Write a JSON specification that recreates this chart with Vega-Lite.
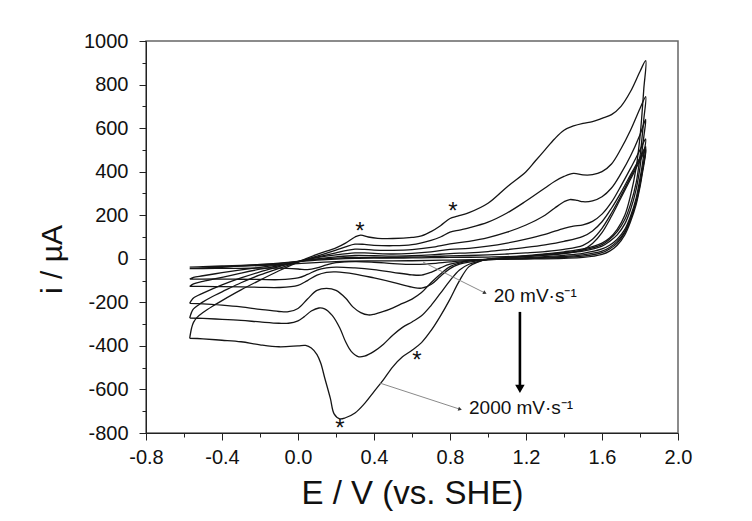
{
"$schema":"https://vega.github.io/schema/vega-lite/v6.json",
"width":532,"height":392,
"autosize":{"type":"none"},
"padding":{"left":146,"top":41,"right":74,"bottom":88},
"background":"white",
"config":{"view":{"stroke":"#666","strokeWidth":1.5},"font":"Liberation Sans"},
"datasets":{
"cv":[
{"s":2000,"k":1,"E":-0.57,"i":-365},{"s":2000,"k":2,"E":-0.56,"i":-318},{"s":2000,"k":3,"E":-0.55,"i":-292},{"s":2000,"k":4,"E":-0.53,"i":-268},{"s":2000,"k":5,"E":-0.5,"i":-247},{"s":2000,"k":6,"E":-0.45,"i":-218},{"s":2000,"k":7,"E":-0.4,"i":-192},{"s":2000,"k":8,"E":-0.3,"i":-143},{"s":2000,"k":9,"E":-0.2,"i":-98},{"s":2000,"k":10,"E":-0.1,"i":-55},{"s":2000,"k":11,"E":0,"i":-15},{"s":2000,"k":12,"E":0.1,"i":20},{"s":2000,"k":13,"E":0.2,"i":50},{"s":2000,"k":14,"E":0.25,"i":72},{"s":2000,"k":15,"E":0.3,"i":100},{"s":2000,"k":16,"E":0.33,"i":109},{"s":2000,"k":17,"E":0.37,"i":100},{"s":2000,"k":18,"E":0.42,"i":94},{"s":2000,"k":19,"E":0.5,"i":93},{"s":2000,"k":20,"E":0.6,"i":98},{"s":2000,"k":21,"E":0.65,"i":105},{"s":2000,"k":22,"E":0.7,"i":125},{"s":2000,"k":23,"E":0.75,"i":152},{"s":2000,"k":24,"E":0.8,"i":185},{"s":2000,"k":25,"E":0.84,"i":196},{"s":2000,"k":26,"E":0.9,"i":212},{"s":2000,"k":27,"E":1.0,"i":255},{"s":2000,"k":28,"E":1.1,"i":330},{"s":2000,"k":29,"E":1.2,"i":400},{"s":2000,"k":30,"E":1.25,"i":450},{"s":2000,"k":31,"E":1.3,"i":500},{"s":2000,"k":32,"E":1.35,"i":550},{"s":2000,"k":33,"E":1.4,"i":590},{"s":2000,"k":34,"E":1.45,"i":610},{"s":2000,"k":35,"E":1.5,"i":622},{"s":2000,"k":36,"E":1.55,"i":630},{"s":2000,"k":37,"E":1.6,"i":645},{"s":2000,"k":38,"E":1.65,"i":662},{"s":2000,"k":39,"E":1.7,"i":700},{"s":2000,"k":40,"E":1.75,"i":768},{"s":2000,"k":41,"E":1.8,"i":860},{"s":2000,"k":42,"E":1.83,"i":910},
{"s":2000,"k":101,"E":1.82,"i":780},{"s":2000,"k":102,"E":1.81,"i":660},{"s":2000,"k":103,"E":1.8,"i":560},{"s":2000,"k":104,"E":1.78,"i":420},{"s":2000,"k":105,"E":1.75,"i":290},{"s":2000,"k":106,"E":1.72,"i":200},{"s":2000,"k":107,"E":1.68,"i":135},{"s":2000,"k":108,"E":1.64,"i":95},{"s":2000,"k":109,"E":1.6,"i":72},{"s":2000,"k":110,"E":1.5,"i":45},{"s":2000,"k":111,"E":1.4,"i":32},{"s":2000,"k":112,"E":1.3,"i":22},{"s":2000,"k":113,"E":1.2,"i":14},{"s":2000,"k":114,"E":1.1,"i":6},{"s":2000,"k":115,"E":1.0,"i":-2},{"s":2000,"k":116,"E":0.95,"i":-14},{"s":2000,"k":117,"E":0.9,"i":-36},{"s":2000,"k":118,"E":0.85,"i":-100},{"s":2000,"k":119,"E":0.8,"i":-185},{"s":2000,"k":120,"E":0.75,"i":-262},{"s":2000,"k":121,"E":0.7,"i":-330},{"s":2000,"k":122,"E":0.65,"i":-385},{"s":2000,"k":123,"E":0.6,"i":-420},{"s":2000,"k":124,"E":0.55,"i":-450},{"s":2000,"k":125,"E":0.5,"i":-495},{"s":2000,"k":126,"E":0.45,"i":-555},{"s":2000,"k":127,"E":0.4,"i":-610},{"s":2000,"k":128,"E":0.35,"i":-665},{"s":2000,"k":129,"E":0.3,"i":-708},{"s":2000,"k":130,"E":0.25,"i":-730},{"s":2000,"k":131,"E":0.22,"i":-735},{"s":2000,"k":132,"E":0.19,"i":-712},{"s":2000,"k":133,"E":0.17,"i":-640},{"s":2000,"k":134,"E":0.14,"i":-545},{"s":2000,"k":135,"E":0.12,"i":-480},{"s":2000,"k":136,"E":0.1,"i":-440},{"s":2000,"k":137,"E":0.07,"i":-410},{"s":2000,"k":138,"E":0.04,"i":-398},{"s":2000,"k":139,"E":0,"i":-400},{"s":2000,"k":140,"E":-0.1,"i":-404},{"s":2000,"k":141,"E":-0.2,"i":-395},{"s":2000,"k":142,"E":-0.3,"i":-381},{"s":2000,"k":143,"E":-0.4,"i":-374},{"s":2000,"k":144,"E":-0.5,"i":-368},{"s":2000,"k":145,"E":-0.57,"i":-365},
{"s":1000,"k":1,"E":-0.57,"i":-272},{"s":1000,"k":2,"E":-0.56,"i":-245},{"s":1000,"k":3,"E":-0.55,"i":-230},{"s":1000,"k":4,"E":-0.52,"i":-210},{"s":1000,"k":5,"E":-0.5,"i":-198},{"s":1000,"k":6,"E":-0.45,"i":-173},{"s":1000,"k":7,"E":-0.4,"i":-152},{"s":1000,"k":8,"E":-0.3,"i":-110},{"s":1000,"k":9,"E":-0.2,"i":-74},{"s":1000,"k":10,"E":-0.1,"i":-44},{"s":1000,"k":11,"E":0,"i":-15},{"s":1000,"k":12,"E":0.1,"i":12},{"s":1000,"k":13,"E":0.2,"i":40},{"s":1000,"k":14,"E":0.25,"i":55},{"s":1000,"k":15,"E":0.3,"i":67},{"s":1000,"k":16,"E":0.35,"i":66},{"s":1000,"k":17,"E":0.4,"i":62},{"s":1000,"k":18,"E":0.5,"i":60},{"s":1000,"k":19,"E":0.6,"i":65},{"s":1000,"k":20,"E":0.7,"i":85},{"s":1000,"k":21,"E":0.75,"i":100},{"s":1000,"k":22,"E":0.8,"i":122},{"s":1000,"k":23,"E":0.85,"i":132},{"s":1000,"k":24,"E":0.9,"i":142},{"s":1000,"k":25,"E":1.0,"i":168},{"s":1000,"k":26,"E":1.1,"i":210},{"s":1000,"k":27,"E":1.2,"i":265},{"s":1000,"k":28,"E":1.3,"i":325},{"s":1000,"k":29,"E":1.35,"i":355},{"s":1000,"k":30,"E":1.4,"i":378},{"s":1000,"k":31,"E":1.45,"i":392},{"s":1000,"k":32,"E":1.5,"i":385},{"s":1000,"k":33,"E":1.55,"i":386},{"s":1000,"k":34,"E":1.6,"i":400},{"s":1000,"k":35,"E":1.65,"i":435},{"s":1000,"k":36,"E":1.7,"i":505},{"s":1000,"k":37,"E":1.75,"i":590},{"s":1000,"k":38,"E":1.8,"i":690},{"s":1000,"k":39,"E":1.83,"i":745},
{"s":1000,"k":101,"E":1.82,"i":640},{"s":1000,"k":102,"E":1.81,"i":550},{"s":1000,"k":103,"E":1.8,"i":470},{"s":1000,"k":104,"E":1.78,"i":350},{"s":1000,"k":105,"E":1.75,"i":250},{"s":1000,"k":106,"E":1.72,"i":180},{"s":1000,"k":107,"E":1.68,"i":125},{"s":1000,"k":108,"E":1.64,"i":90},{"s":1000,"k":109,"E":1.6,"i":65},{"s":1000,"k":110,"E":1.5,"i":40},{"s":1000,"k":111,"E":1.4,"i":28},{"s":1000,"k":112,"E":1.3,"i":20},{"s":1000,"k":113,"E":1.2,"i":12},{"s":1000,"k":114,"E":1.1,"i":5},{"s":1000,"k":115,"E":1.0,"i":-3},{"s":1000,"k":116,"E":0.95,"i":-12},{"s":1000,"k":117,"E":0.9,"i":-25},{"s":1000,"k":118,"E":0.85,"i":-51},{"s":1000,"k":119,"E":0.8,"i":-100},{"s":1000,"k":120,"E":0.75,"i":-158},{"s":1000,"k":121,"E":0.7,"i":-215},{"s":1000,"k":122,"E":0.65,"i":-262},{"s":1000,"k":123,"E":0.6,"i":-290},{"s":1000,"k":124,"E":0.55,"i":-315},{"s":1000,"k":125,"E":0.5,"i":-350},{"s":1000,"k":126,"E":0.45,"i":-392},{"s":1000,"k":127,"E":0.4,"i":-425},{"s":1000,"k":128,"E":0.35,"i":-447},{"s":1000,"k":129,"E":0.32,"i":-450},{"s":1000,"k":130,"E":0.28,"i":-425},{"s":1000,"k":131,"E":0.25,"i":-380},{"s":1000,"k":132,"E":0.22,"i":-318},{"s":1000,"k":133,"E":0.18,"i":-260},{"s":1000,"k":134,"E":0.14,"i":-230},{"s":1000,"k":135,"E":0.11,"i":-226},{"s":1000,"k":136,"E":0.07,"i":-240},{"s":1000,"k":137,"E":0.03,"i":-268},{"s":1000,"k":138,"E":0,"i":-285},{"s":1000,"k":139,"E":-0.05,"i":-296},{"s":1000,"k":140,"E":-0.1,"i":-296},{"s":1000,"k":141,"E":-0.2,"i":-290},{"s":1000,"k":142,"E":-0.3,"i":-283},{"s":1000,"k":143,"E":-0.4,"i":-278},{"s":1000,"k":144,"E":-0.5,"i":-274},{"s":1000,"k":145,"E":-0.57,"i":-272},
{"s":500,"k":1,"E":-0.57,"i":-205},{"s":500,"k":2,"E":-0.56,"i":-190},{"s":500,"k":3,"E":-0.55,"i":-180},{"s":500,"k":4,"E":-0.5,"i":-158},{"s":500,"k":5,"E":-0.45,"i":-138},{"s":500,"k":6,"E":-0.4,"i":-120},{"s":500,"k":7,"E":-0.3,"i":-88},{"s":500,"k":8,"E":-0.2,"i":-60},{"s":500,"k":9,"E":-0.1,"i":-36},{"s":500,"k":10,"E":0,"i":-12},{"s":500,"k":11,"E":0.1,"i":8},{"s":500,"k":12,"E":0.2,"i":27},{"s":500,"k":13,"E":0.25,"i":37},{"s":500,"k":14,"E":0.3,"i":44},{"s":500,"k":15,"E":0.35,"i":43},{"s":500,"k":16,"E":0.4,"i":40},{"s":500,"k":17,"E":0.5,"i":39},{"s":500,"k":18,"E":0.6,"i":42},{"s":500,"k":19,"E":0.7,"i":52},{"s":500,"k":20,"E":0.8,"i":68},{"s":500,"k":21,"E":0.9,"i":80},{"s":500,"k":22,"E":1.0,"i":97},{"s":500,"k":23,"E":1.1,"i":122},{"s":500,"k":24,"E":1.2,"i":155},{"s":500,"k":25,"E":1.3,"i":200},{"s":500,"k":26,"E":1.35,"i":232},{"s":500,"k":27,"E":1.4,"i":262},{"s":500,"k":28,"E":1.43,"i":272},{"s":500,"k":29,"E":1.47,"i":268},{"s":500,"k":30,"E":1.5,"i":262},{"s":500,"k":31,"E":1.55,"i":266},{"s":500,"k":32,"E":1.6,"i":285},{"s":500,"k":33,"E":1.65,"i":325},{"s":500,"k":34,"E":1.7,"i":392},{"s":500,"k":35,"E":1.75,"i":472},{"s":500,"k":36,"E":1.8,"i":570},{"s":500,"k":37,"E":1.83,"i":640},
{"s":500,"k":101,"E":1.82,"i":560},{"s":500,"k":102,"E":1.81,"i":490},{"s":500,"k":103,"E":1.8,"i":420},{"s":500,"k":104,"E":1.78,"i":320},{"s":500,"k":105,"E":1.75,"i":225},{"s":500,"k":106,"E":1.72,"i":160},{"s":500,"k":107,"E":1.68,"i":110},{"s":500,"k":108,"E":1.64,"i":80},{"s":500,"k":109,"E":1.6,"i":58},{"s":500,"k":110,"E":1.5,"i":35},{"s":500,"k":111,"E":1.4,"i":25},{"s":500,"k":112,"E":1.3,"i":17},{"s":500,"k":113,"E":1.2,"i":10},{"s":500,"k":114,"E":1.1,"i":3},{"s":500,"k":115,"E":1.0,"i":-2},{"s":500,"k":116,"E":0.9,"i":-10},{"s":500,"k":117,"E":0.8,"i":-36},{"s":500,"k":118,"E":0.75,"i":-70},{"s":500,"k":119,"E":0.7,"i":-110},{"s":500,"k":120,"E":0.65,"i":-155},{"s":500,"k":121,"E":0.6,"i":-185},{"s":500,"k":122,"E":0.55,"i":-205},{"s":500,"k":123,"E":0.5,"i":-225},{"s":500,"k":124,"E":0.45,"i":-242},{"s":500,"k":125,"E":0.4,"i":-255},{"s":500,"k":126,"E":0.37,"i":-258},{"s":500,"k":127,"E":0.33,"i":-247},{"s":500,"k":128,"E":0.29,"i":-222},{"s":500,"k":129,"E":0.25,"i":-180},{"s":500,"k":130,"E":0.2,"i":-145},{"s":500,"k":131,"E":0.15,"i":-136},{"s":500,"k":132,"E":0.1,"i":-145},{"s":500,"k":133,"E":0.05,"i":-185},{"s":500,"k":134,"E":0,"i":-228},{"s":500,"k":135,"E":-0.05,"i":-243},{"s":500,"k":136,"E":-0.1,"i":-242},{"s":500,"k":137,"E":-0.2,"i":-232},{"s":500,"k":138,"E":-0.3,"i":-221},{"s":500,"k":139,"E":-0.4,"i":-213},{"s":500,"k":140,"E":-0.5,"i":-207},{"s":500,"k":141,"E":-0.57,"i":-205},
{"s":200,"k":1,"E":-0.57,"i":-127},{"s":200,"k":2,"E":-0.55,"i":-115},{"s":200,"k":3,"E":-0.5,"i":-104},{"s":200,"k":4,"E":-0.4,"i":-85},{"s":200,"k":5,"E":-0.3,"i":-66},{"s":200,"k":6,"E":-0.2,"i":-48},{"s":200,"k":7,"E":-0.1,"i":-32},{"s":200,"k":8,"E":0,"i":-13},{"s":200,"k":9,"E":0.1,"i":5},{"s":200,"k":10,"E":0.2,"i":18},{"s":200,"k":11,"E":0.3,"i":27},{"s":200,"k":12,"E":0.35,"i":27},{"s":200,"k":13,"E":0.4,"i":25},{"s":200,"k":14,"E":0.5,"i":22},{"s":200,"k":15,"E":0.6,"i":25},{"s":200,"k":16,"E":0.7,"i":32},{"s":200,"k":17,"E":0.8,"i":43},{"s":200,"k":18,"E":0.9,"i":48},{"s":200,"k":19,"E":1.0,"i":58},{"s":200,"k":20,"E":1.1,"i":72},{"s":200,"k":21,"E":1.2,"i":90},{"s":200,"k":22,"E":1.3,"i":112},{"s":200,"k":23,"E":1.4,"i":140},{"s":200,"k":24,"E":1.45,"i":150},{"s":200,"k":25,"E":1.5,"i":156},{"s":200,"k":26,"E":1.55,"i":172},{"s":200,"k":27,"E":1.6,"i":205},{"s":200,"k":28,"E":1.65,"i":260},{"s":200,"k":29,"E":1.7,"i":335},{"s":200,"k":30,"E":1.75,"i":415},{"s":200,"k":31,"E":1.8,"i":500},{"s":200,"k":32,"E":1.83,"i":550},
{"s":200,"k":101,"E":1.82,"i":480},{"s":200,"k":102,"E":1.81,"i":420},{"s":200,"k":103,"E":1.8,"i":370},{"s":200,"k":104,"E":1.78,"i":280},{"s":200,"k":105,"E":1.75,"i":195},{"s":200,"k":106,"E":1.72,"i":135},{"s":200,"k":107,"E":1.68,"i":90},{"s":200,"k":108,"E":1.64,"i":62},{"s":200,"k":109,"E":1.6,"i":45},{"s":200,"k":110,"E":1.5,"i":25},{"s":200,"k":111,"E":1.4,"i":16},{"s":200,"k":112,"E":1.3,"i":10},{"s":200,"k":113,"E":1.2,"i":5},{"s":200,"k":114,"E":1.1,"i":0},{"s":200,"k":115,"E":1.0,"i":-5},{"s":200,"k":116,"E":0.9,"i":-15},{"s":200,"k":117,"E":0.85,"i":-25},{"s":200,"k":118,"E":0.8,"i":-45},{"s":200,"k":119,"E":0.75,"i":-80},{"s":200,"k":120,"E":0.7,"i":-118},{"s":200,"k":121,"E":0.65,"i":-135},{"s":200,"k":122,"E":0.6,"i":-130},{"s":200,"k":123,"E":0.5,"i":-108},{"s":200,"k":124,"E":0.4,"i":-88},{"s":200,"k":125,"E":0.3,"i":-70},{"s":200,"k":126,"E":0.2,"i":-60},{"s":200,"k":127,"E":0.15,"i":-62},{"s":200,"k":128,"E":0.1,"i":-75},{"s":200,"k":129,"E":0.05,"i":-100},{"s":200,"k":130,"E":0,"i":-122},{"s":200,"k":131,"E":-0.1,"i":-132},{"s":200,"k":132,"E":-0.2,"i":-131},{"s":200,"k":133,"E":-0.3,"i":-129},{"s":200,"k":134,"E":-0.4,"i":-128},{"s":200,"k":135,"E":-0.5,"i":-127},{"s":200,"k":136,"E":-0.57,"i":-127},
{"s":100,"k":1,"E":-0.57,"i":-93},{"s":100,"k":2,"E":-0.55,"i":-85},{"s":100,"k":3,"E":-0.5,"i":-78},{"s":100,"k":4,"E":-0.4,"i":-64},{"s":100,"k":5,"E":-0.3,"i":-51},{"s":100,"k":6,"E":-0.2,"i":-39},{"s":100,"k":7,"E":-0.1,"i":-28},{"s":100,"k":8,"E":0,"i":-13},{"s":100,"k":9,"E":0.1,"i":0},{"s":100,"k":10,"E":0.2,"i":9},{"s":100,"k":11,"E":0.3,"i":15},{"s":100,"k":12,"E":0.4,"i":14},{"s":100,"k":13,"E":0.5,"i":12},{"s":100,"k":14,"E":0.6,"i":14},{"s":100,"k":15,"E":0.7,"i":18},{"s":100,"k":16,"E":0.8,"i":24},{"s":100,"k":17,"E":0.9,"i":27},{"s":100,"k":18,"E":1.0,"i":33},{"s":100,"k":19,"E":1.1,"i":42},{"s":100,"k":20,"E":1.2,"i":52},{"s":100,"k":21,"E":1.3,"i":64},{"s":100,"k":22,"E":1.4,"i":80},{"s":100,"k":23,"E":1.5,"i":103},{"s":100,"k":24,"E":1.55,"i":128},{"s":100,"k":25,"E":1.6,"i":170},{"s":100,"k":26,"E":1.65,"i":232},{"s":100,"k":27,"E":1.7,"i":305},{"s":100,"k":28,"E":1.75,"i":385},{"s":100,"k":29,"E":1.8,"i":465},{"s":100,"k":30,"E":1.83,"i":515},
{"s":100,"k":101,"E":1.82,"i":445},{"s":100,"k":102,"E":1.81,"i":395},{"s":100,"k":103,"E":1.8,"i":345},{"s":100,"k":104,"E":1.78,"i":265},{"s":100,"k":105,"E":1.75,"i":185},{"s":100,"k":106,"E":1.72,"i":125},{"s":100,"k":107,"E":1.68,"i":80},{"s":100,"k":108,"E":1.64,"i":52},{"s":100,"k":109,"E":1.6,"i":35},{"s":100,"k":110,"E":1.5,"i":18},{"s":100,"k":111,"E":1.4,"i":11},{"s":100,"k":112,"E":1.3,"i":6},{"s":100,"k":113,"E":1.2,"i":2},{"s":100,"k":114,"E":1.1,"i":-1},{"s":100,"k":115,"E":1.0,"i":-4},{"s":100,"k":116,"E":0.9,"i":-10},{"s":100,"k":117,"E":0.8,"i":-25},{"s":100,"k":118,"E":0.75,"i":-42},{"s":100,"k":119,"E":0.7,"i":-62},{"s":100,"k":120,"E":0.65,"i":-75},{"s":100,"k":121,"E":0.6,"i":-74},{"s":100,"k":122,"E":0.5,"i":-62},{"s":100,"k":123,"E":0.4,"i":-50},{"s":100,"k":124,"E":0.3,"i":-42},{"s":100,"k":125,"E":0.2,"i":-38},{"s":100,"k":126,"E":0.15,"i":-42},{"s":100,"k":127,"E":0.1,"i":-52},{"s":100,"k":128,"E":0.05,"i":-72},{"s":100,"k":129,"E":0,"i":-88},{"s":100,"k":130,"E":-0.1,"i":-96},{"s":100,"k":131,"E":-0.2,"i":-95},{"s":100,"k":132,"E":-0.3,"i":-94},{"s":100,"k":133,"E":-0.4,"i":-93},{"s":100,"k":134,"E":-0.5,"i":-93},{"s":100,"k":135,"E":-0.57,"i":-93},
{"s":50,"k":1,"E":-0.57,"i":-45},{"s":50,"k":2,"E":-0.5,"i":-42},{"s":50,"k":3,"E":-0.4,"i":-38},{"s":50,"k":4,"E":-0.3,"i":-33},{"s":50,"k":5,"E":-0.2,"i":-28},{"s":50,"k":6,"E":-0.1,"i":-22},{"s":50,"k":7,"E":0,"i":-12},{"s":50,"k":8,"E":0.1,"i":-3},{"s":50,"k":9,"E":0.2,"i":3},{"s":50,"k":10,"E":0.3,"i":6},{"s":50,"k":11,"E":0.4,"i":6},{"s":50,"k":12,"E":0.5,"i":6},{"s":50,"k":13,"E":0.6,"i":8},{"s":50,"k":14,"E":0.7,"i":10},{"s":50,"k":15,"E":0.8,"i":13},{"s":50,"k":16,"E":0.9,"i":15},{"s":50,"k":17,"E":1.0,"i":18},{"s":50,"k":18,"E":1.1,"i":22},{"s":50,"k":19,"E":1.2,"i":27},{"s":50,"k":20,"E":1.3,"i":33},{"s":50,"k":21,"E":1.4,"i":43},{"s":50,"k":22,"E":1.5,"i":62},{"s":50,"k":23,"E":1.55,"i":90},{"s":50,"k":24,"E":1.6,"i":140},{"s":50,"k":25,"E":1.65,"i":210},{"s":50,"k":26,"E":1.7,"i":290},{"s":50,"k":27,"E":1.75,"i":375},{"s":50,"k":28,"E":1.8,"i":460},{"s":50,"k":29,"E":1.83,"i":505},
{"s":50,"k":101,"E":1.82,"i":440},{"s":50,"k":102,"E":1.81,"i":390},{"s":50,"k":103,"E":1.8,"i":340},{"s":50,"k":104,"E":1.78,"i":260},{"s":50,"k":105,"E":1.75,"i":180},{"s":50,"k":106,"E":1.72,"i":120},{"s":50,"k":107,"E":1.68,"i":72},{"s":50,"k":108,"E":1.64,"i":45},{"s":50,"k":109,"E":1.6,"i":28},{"s":50,"k":110,"E":1.5,"i":12},{"s":50,"k":111,"E":1.4,"i":7},{"s":50,"k":112,"E":1.3,"i":3},{"s":50,"k":113,"E":1.2,"i":1},{"s":50,"k":114,"E":1.0,"i":-3},{"s":50,"k":115,"E":0.9,"i":-7},{"s":50,"k":116,"E":0.8,"i":-14},{"s":50,"k":117,"E":0.7,"i":-22},{"s":50,"k":118,"E":0.6,"i":-26},{"s":50,"k":119,"E":0.5,"i":-22},{"s":50,"k":120,"E":0.4,"i":-16},{"s":50,"k":121,"E":0.3,"i":-13},{"s":50,"k":122,"E":0.2,"i":-18},{"s":50,"k":123,"E":0.15,"i":-28},{"s":50,"k":124,"E":0.1,"i":-42},{"s":50,"k":125,"E":0.05,"i":-50},{"s":50,"k":126,"E":0,"i":-47},{"s":50,"k":127,"E":-0.1,"i":-43},{"s":50,"k":128,"E":-0.2,"i":-43},{"s":50,"k":129,"E":-0.3,"i":-44},{"s":50,"k":130,"E":-0.4,"i":-44},{"s":50,"k":131,"E":-0.5,"i":-45},{"s":50,"k":132,"E":-0.57,"i":-45},
{"s":20,"k":1,"E":-0.57,"i":-38},{"s":20,"k":2,"E":-0.5,"i":-36},{"s":20,"k":3,"E":-0.4,"i":-33},{"s":20,"k":4,"E":-0.3,"i":-30},{"s":20,"k":5,"E":-0.2,"i":-26},{"s":20,"k":6,"E":-0.1,"i":-20},{"s":20,"k":7,"E":0,"i":-13},{"s":20,"k":8,"E":0.1,"i":-6},{"s":20,"k":9,"E":0.2,"i":-1},{"s":20,"k":10,"E":0.3,"i":2},{"s":20,"k":11,"E":0.4,"i":3},{"s":20,"k":12,"E":0.5,"i":3},{"s":20,"k":13,"E":0.6,"i":4},{"s":20,"k":14,"E":0.7,"i":5},{"s":20,"k":15,"E":0.8,"i":6},{"s":20,"k":16,"E":0.9,"i":7},{"s":20,"k":17,"E":1.0,"i":8},{"s":20,"k":18,"E":1.1,"i":10},{"s":20,"k":19,"E":1.2,"i":13},{"s":20,"k":20,"E":1.3,"i":17},{"s":20,"k":21,"E":1.4,"i":24},{"s":20,"k":22,"E":1.5,"i":42},{"s":20,"k":23,"E":1.55,"i":70},{"s":20,"k":24,"E":1.6,"i":120},{"s":20,"k":25,"E":1.65,"i":195},{"s":20,"k":26,"E":1.7,"i":280},{"s":20,"k":27,"E":1.75,"i":365},{"s":20,"k":28,"E":1.8,"i":450},{"s":20,"k":29,"E":1.83,"i":498},
{"s":20,"k":101,"E":1.82,"i":430},{"s":20,"k":102,"E":1.81,"i":380},{"s":20,"k":103,"E":1.8,"i":330},{"s":20,"k":104,"E":1.78,"i":250},{"s":20,"k":105,"E":1.75,"i":170},{"s":20,"k":106,"E":1.72,"i":110},{"s":20,"k":107,"E":1.68,"i":62},{"s":20,"k":108,"E":1.64,"i":35},{"s":20,"k":109,"E":1.6,"i":20},{"s":20,"k":110,"E":1.5,"i":6},{"s":20,"k":111,"E":1.4,"i":2},{"s":20,"k":112,"E":1.2,"i":-1},{"s":20,"k":113,"E":1.0,"i":-3},{"s":20,"k":114,"E":0.8,"i":-6},{"s":20,"k":115,"E":0.6,"i":-9},{"s":20,"k":116,"E":0.4,"i":-10},{"s":20,"k":117,"E":0.2,"i":-13},{"s":20,"k":118,"E":0,"i":-22},{"s":20,"k":119,"E":-0.1,"i":-27},{"s":20,"k":120,"E":-0.2,"i":-31},{"s":20,"k":121,"E":-0.3,"i":-34},{"s":20,"k":122,"E":-0.4,"i":-36},{"s":20,"k":123,"E":-0.5,"i":-37},{"s":20,"k":124,"E":-0.57,"i":-38}
],
"stars":[{"E":0.326,"i":150},{"E":0.816,"i":242},{"E":0.626,"i":-440},{"E":0.221,"i":-755}],
"labels":[{"E":1.03,"i":-171,"t":"20 mV·s⁻¹"},{"E":0.9,"i":-685,"t":"2000 mV·s⁻¹"}],
"pointers":[{"E":0.658,"i":-15,"E2":0.984,"i2":-157},{"E":0.432,"i":-571,"E2":0.853,"i2":-691}],
"heads":[{"E":0.984,"i":-157,"a":26},{"E":0.853,"i":-691,"a":18}],
"arrow":[{"E":1.168,"i":-244,"i2":-592}],
"arrowhead":[{"E":1.168,"i":-597}]
},
"encoding":{
"x":{"field":"E","type":"quantitative","scale":{"domain":[-0.8,2.0],"nice":false,"zero":false},
"axis":{"values":[-0.8,-0.6,-0.4,-0.2,0,0.2,0.4,0.6,0.8,1,1.2,1.4,1.6,1.8,2],
"labelExpr":"abs(round(datum.value*10)) % 4 == 0 ? replace(format(datum.value, '.1f'), '−', '-') : ''",
"tickSize":{"condition":{"test":"abs(round(datum.value*10)) % 4 == 0","value":7},"value":4},
"title":"E  / V (vs. SHE)","titleFontSize":33,"titleFontWeight":"normal","titlePadding":10,"titleColor":"#111",
"labelFontSize":20,"labelPadding":7,"labelColor":"#111","labelOverlap":false,"labelFlush":false,
"grid":false,"domainColor":"#222","tickColor":"#222"}},
"y":{"field":"i","type":"quantitative","scale":{"domain":[-800,1000],"nice":false,"zero":false},
"axis":{"values":[-800,-700,-600,-500,-400,-300,-200,-100,0,100,200,300,400,500,600,700,800,900,1000],
"labelExpr":"datum.value % 200 == 0 ? replace(format(datum.value, 'd'), '−', '-') : ''",
"tickSize":{"condition":{"test":"datum.value % 200 == 0","value":7},"value":4},
"title":"i / µA","titleFontSize":30,"titleFontWeight":"normal","titlePadding":16,"titleY":218,"titleColor":"#111",
"labelFontSize":20,"labelPadding":11,"labelColor":"#111","labelOverlap":false,"labelFlush":false,
"grid":false,"domainColor":"#222","tickColor":"#222"}}
},
"layer":[
{"data":{"name":"cv"},"mark":{"type":"line","interpolate":"catmull-rom","color":"#151515","strokeWidth":1.3},
"encoding":{"detail":{"field":"s","type":"nominal"},"order":{"field":"k","type":"quantitative"}}},
{"data":{"name":"pointers"},"mark":{"type":"rule","color":"#8a8a8a","strokeWidth":1},
"encoding":{"x2":{"field":"E2"},"y2":{"field":"i2"}}},
{"data":{"name":"heads"},"mark":{"type":"point","shape":"triangle-right","filled":true,"color":"#333","size":18,"opacity":1},
"encoding":{"angle":{"field":"a","type":"quantitative","scale":null}}},
{"data":{"name":"arrow"},"mark":{"type":"rule","color":"#000","strokeWidth":2.6},
"encoding":{"y2":{"field":"i2"}}},
{"data":{"name":"arrowhead"},"mark":{"type":"point","shape":"triangle-down","filled":true,"color":"#000","size":90,"opacity":1},"encoding":{}},
{"data":{"name":"stars"},"mark":{"type":"text","text":"*","fontSize":24,"color":"#111","baseline":"middle","align":"center","dy":6},"encoding":{}},
{"data":{"name":"labels"},"mark":{"type":"text","fontSize":19,"color":"#111","baseline":"middle","align":"left"},
"encoding":{"text":{"field":"t","type":"nominal"}}}
]
}
